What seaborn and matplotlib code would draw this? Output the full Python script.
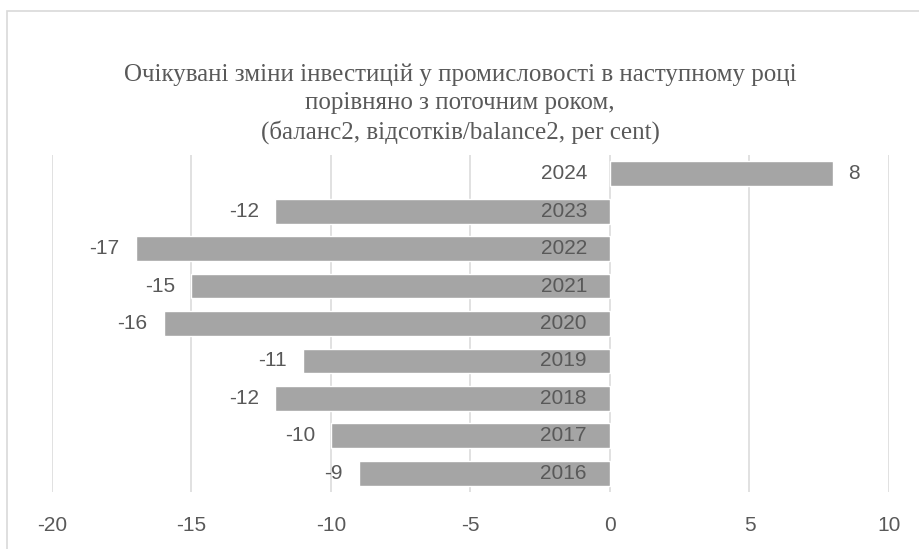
import matplotlib
matplotlib.use("Agg")
import matplotlib.pyplot as plt
from matplotlib.patches import Rectangle
import seaborn as sns

years = ["2024", "2023", "2022", "2021", "2020", "2019", "2018", "2017", "2016"]
values = [8, -12, -17, -15, -16, -11, -12, -10, -9]
xticks = [-20, -15, -10, -5, 0, 5, 10]

title = ("Очікувані зміни інвестицій у промисловості в наступному році\n"
         "порівняно з поточним роком,\n"
         "(баланс2, відсотків/balance2, per cent)")

sns.set_style("white")
plt.rcParams["font.family"] = ["Liberation Sans", "DejaVu Sans"]

text_color = "#595959"
bar_color = "#A5A5A5"
grid_color = "#D9D9D9"

W, H = 920, 549
fig = plt.figure(figsize=(W / 100, H / 100), dpi=100)
ax = fig.add_axes([52 / W, 1 - 492 / H, (889 - 52) / W, (492 - 155) / H])

sns.barplot(x=values, y=years, order=years, orient="h", color=bar_color,
            width=0.66, saturation=1, ax=ax, zorder=2)

ax.set_xlim(-20, 10)
ax.set_xticks(xticks)
ax.set_xticklabels([str(t) for t in xticks])
ax.set_ylim(len(years) - 0.5, -0.5)
ax.set_yticks([])
ax.set_xlabel("")
ax.set_ylabel("")
ax.grid(axis="x", color=grid_color, lw=1.1, zorder=1)
ax.set_axisbelow(True)
for s in ax.spines.values():
    s.set_visible(False)
ax.tick_params(axis="x", length=0, pad=17, labelsize=15, labelcolor=text_color)

px = 0.72
for i, (yr, v) in enumerate(zip(years, values)):
    ax.annotate(yr, xy=(0, i), xytext=(-23 * px, 0), textcoords="offset points",
                ha="right", va="center", fontsize=15, color=text_color, zorder=3)
    if v < 0:
        ax.annotate(str(v), xy=(v, i), xytext=(-16 * px, 0), textcoords="offset points",
                    ha="right", va="center", fontsize=15, color=text_color)
    else:
        ax.annotate(str(v), xy=(v, i), xytext=(15 * px, 0), textcoords="offset points",
                    ha="left", va="center", fontsize=15, color=text_color)

fig.text(0.5, 1 - 104 / H, title, ha="center", va="center", fontsize=18,
         color=text_color, linespacing=1.35, family=["Liberation Serif", "DejaVu Serif"])

fig.add_artist(Rectangle((7 / W, -0.1), 2, 1.1 - 11 / H, transform=fig.transFigure,
                         fill=False, edgecolor=grid_color, lw=1.2))

fig.savefig("out.png", dpi=100)
